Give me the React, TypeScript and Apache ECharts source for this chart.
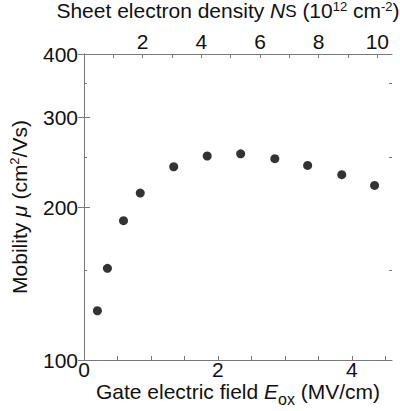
import React, { useEffect, useRef } from 'react';
import * as echarts from 'echarts';

// Gate electric field E_ox (MV/cm)
const fieldEox = [0.2, 0.35, 0.59, 0.84, 1.34, 1.84, 2.34, 2.85, 3.34, 3.85, 4.34];
// Mobility mu (cm^2/Vs)
const mobility = [125, 151.5, 188, 213, 240, 252, 254.5, 249, 241.5, 231.5, 220.5];

const yMajorTicks = [100, 200, 300, 400];
const yMinorTicks = [150, 250, 350];
const xBottomTicks = [0, 0.5, 1, 1.5, 2, 2.5, 3, 3.5, 4, 4.5];
const xBottomLabels = [0, 2, 4];
const xTopTicks = [1, 2, 3, 4, 5, 6, 7, 8, 9, 10];
const xTopLabels = [2, 4, 6, 8, 10];

const FONT = 'Liberation Sans, Arial, sans-serif';
const AXIS_COLOR = '#7a7a7a';
const TEXT_COLOR = '#111';
const FS = 21;
const LH = 22;

const base = { fontFamily: FONT, color: TEXT_COLOR };
const rich = {
  i: { ...base, fontSize: FS, fontStyle: 'italic', lineHeight: LH },
  n: { ...base, fontSize: FS, lineHeight: LH, verticalAlign: 'top' },
  ni: { ...base, fontSize: FS, fontStyle: 'italic', lineHeight: LH, verticalAlign: 'top' },
  sp: { ...base, fontSize: FS, lineHeight: 26 },
  subl: { ...base, fontSize: 16, lineHeight: 12, verticalAlign: 'bottom' },
  sup: { ...base, fontSize: 13, lineHeight: 18, verticalAlign: 'top' },
};
const richTop = {
  i: { ...base, fontSize: FS, fontStyle: 'italic', lineHeight: 20 },
  sub: { ...base, fontSize: 17, lineHeight: 12, verticalAlign: 'bottom' },
  sup: { ...base, fontSize: 13, lineHeight: 18, verticalAlign: 'top' },
};

const nameStyle = (extra: any = {}) => ({
  fontSize: FS,
  fontFamily: FONT,
  color: TEXT_COLOR,
  lineHeight: LH,
  rich,
  ...extra,
});

export default function App() {
  const ref = useRef<HTMLDivElement>(null);
  useEffect(() => {
    if (!ref.current) return;
    const chart = echarts.init(ref.current, null, { renderer: 'svg' });
    const lineCommon = { show: true, lineStyle: { color: AXIS_COLOR, width: 1 } };
    const labelCommon = { fontSize: FS, fontFamily: FONT, color: TEXT_COLOR };
    const yBase = {
      type: 'log',
      logBase: 10,
      min: 100,
      max: 400,
      splitLine: { show: false },
      minorTick: { show: false },
    };
    chart.setOption({
      animation: false,
      backgroundColor: '#fff',
      grid: { left: 84, right: 8, top: 54, bottom: 51, outerBoundsMode: 'none', containLabel: false },
      xAxis: [
        {
          type: 'value',
          position: 'bottom',
          min: 0,
          max: 4.6,
          axisLine: lineCommon,
          splitLine: { show: false },
          axisTick: { inside: true, length: 4, customValues: xBottomTicks, lineStyle: { color: AXIS_COLOR } },
          axisLabel: {
            ...labelCommon,
            lineHeight: 16,
            margin: 1,
            customValues: xBottomLabels,
            formatter: (v: number) => String(v),
          },
          name: '{n|Gate electric field }{ni|E}{subl|ox}{sp| }{n|(MV/cm)}',
          nameLocation: 'middle',
          nameGap: 21,
          nameMoveOverlap: false,
          nameTextStyle: nameStyle(),
        },
        {
          type: 'value',
          position: 'top',
          min: 0,
          max: 10.5,
          axisLine: lineCommon,
          splitLine: { show: false },
          axisTick: { inside: true, length: 4, customValues: xTopTicks, lineStyle: { color: AXIS_COLOR } },
          axisLabel: { ...labelCommon, margin: 2, customValues: xTopLabels, formatter: (v: number) => String(v) },
          name: 'Sheet electron density {i|N}{sub|S} (10{sup|12} cm{sup|-2})',
          nameLocation: 'middle',
          nameGap: 34,
          nameMoveOverlap: false,
          nameTextStyle: nameStyle({ lineHeight: 20, rich: richTop, padding: [0, 20, 0, 0] }),
        },
      ],
      yAxis: [
        {
          ...yBase,
          position: 'left',
          axisLine: lineCommon,
          axisTick: { inside: true, length: 6, customValues: yMajorTicks, lineStyle: { color: AXIS_COLOR } },
          axisLabel: { ...labelCommon, margin: 6, customValues: yMajorTicks, formatter: (v: number) => String(Math.round(v)) },
          name: 'Mobility {i|μ} (cm{sup|2}/Vs)',
          nameLocation: 'middle',
          nameGap: 54,
          nameMoveOverlap: false,
          nameTextStyle: nameStyle(),
        },
        {
          ...yBase,
          position: 'right',
          axisLine: lineCommon,
          axisTick: { inside: true, length: 6, customValues: yMajorTicks, lineStyle: { color: AXIS_COLOR } },
          axisLabel: { show: false },
        },
        {
          ...yBase,
          position: 'left',
          axisLine: { show: false },
          axisTick: { inside: true, length: 3, customValues: yMinorTicks, lineStyle: { color: AXIS_COLOR } },
          axisLabel: { show: false },
        },
        {
          ...yBase,
          position: 'right',
          axisLine: { show: false },
          axisTick: { inside: true, length: 3, customValues: yMinorTicks, lineStyle: { color: AXIS_COLOR } },
          axisLabel: { show: false },
        },
      ],
      series: [
        {
          type: 'scatter',
          xAxisIndex: 0,
          yAxisIndex: 0,
          symbol: 'circle',
          symbolSize: 9,
          itemStyle: { color: '#000' },
          data: fieldEox.map((x, i) => [x, mobility[i]]),
        },
      ],
    });
    return () => chart.dispose();
  }, []);
  return (
    <div
      ref={ref}
      style={{ position: 'fixed', left: 0, top: 0, width: 400, height: 411, background: '#fff' }}
    />
  );
}
